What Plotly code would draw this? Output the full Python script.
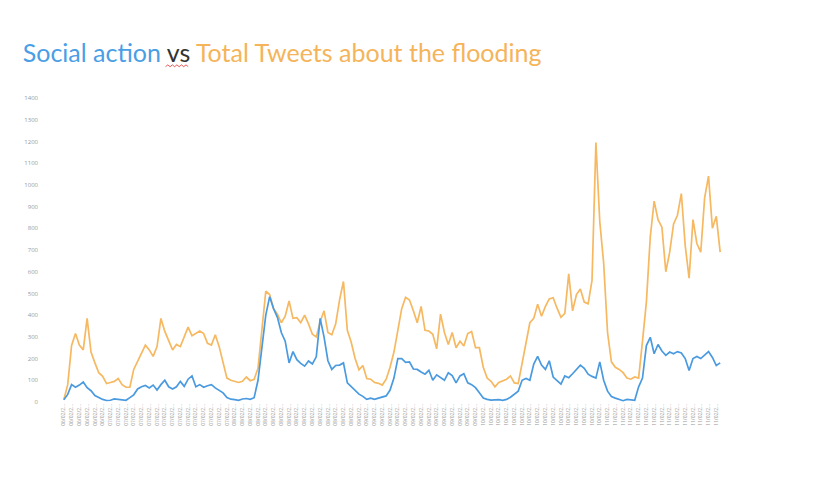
import plotly.graph_objects as go

# hourly-ish readings (roughly 45 min apart)
total_tweets = [
    10, 80, 260, 315, 262, 240, 385, 230, 180, 135,
    118, 85, 90, 95, 108, 80, 68, 68, 150, 188,
    220, 262, 240, 210, 255, 385, 325, 280, 240, 265,
    255, 300, 345, 305, 315, 327, 315, 270, 262, 310,
    255, 180, 110, 100, 95, 90, 95, 115, 98, 104,
    155, 330, 510, 495, 430, 405, 365, 395, 465, 385,
    388, 365, 400, 360, 312, 300, 370, 420, 320, 310,
    360, 470, 555, 330, 275, 200, 148, 168, 108, 105,
    90, 86, 78, 105, 160, 230, 330, 430, 482, 470,
    420, 365, 440, 330, 327, 312, 245, 405, 320, 265,
    320, 250, 280, 258, 315, 325, 250, 250, 160, 110,
    95, 70, 90, 97, 105, 120, 88, 85, 180, 280,
    365, 385, 450, 395, 440, 475, 480, 432, 390, 408,
    590, 420, 495, 520, 460, 452, 560, 1195, 830, 640,
    320, 185, 160, 150, 135, 110, 105, 115, 110, 280,
    460, 760, 925, 840, 805, 600, 690, 820, 860, 960,
    720, 570, 840, 730, 690, 940, 1040, 800, 855, 690,
]

social_action = [
    10, 35, 80, 68, 78, 92, 66, 52, 30, 20,
    12, 7, 8, 14, 12, 12, 8, 20, 33, 60,
    70, 76, 65, 78, 55, 80, 100, 70, 60, 70,
    95, 72, 105, 120, 70, 80, 68, 75, 80, 65,
    52, 42, 20, 13, 11, 8, 14, 16, 12, 20,
    100, 240, 400, 485, 430, 390, 320, 280, 180, 232,
    195, 178, 165, 189, 175, 208, 385, 300, 190, 150,
    168, 170, 180, 88, 70, 55, 36, 26, 12, 18,
    12, 18, 22, 28, 55, 110, 200, 200, 183, 185,
    152, 150, 138, 128, 146, 100, 125, 112, 100, 135,
    122, 88, 120, 130, 88, 80, 66, 43, 18, 12,
    9, 10, 11, 8, 12, 22, 35, 50, 100, 108,
    100, 175, 210, 170, 150, 190, 115, 97, 82, 120,
    112, 130, 148, 170, 155, 128, 118, 110, 185, 100,
    50, 25, 18, 13, 6, 12, 11, 8, 70, 110,
    260, 298, 222, 265, 235, 215, 230, 222, 232, 226,
    200, 145, 200, 210, 200, 215, 232, 205, 168, 180,
]

# one label every second reading, day text cut short as in the source chart
tick_labels = (["06/02/2…"] * 6 + ["07/02/2…"] * 16 + ["08/02/2…"] * 16
               + ["09/02/2…"] * 16 + ["10/02/2…"] * 16 + ["11/02/2…"] * 15)

x = list(range(len(total_tweets)))

fig = go.Figure()
fig.add_trace(go.Scatter(x=x, y=total_tweets, mode='lines',
                         name='Total Tweets',
                         line=dict(color='#f6b860', width=1.7)))
fig.add_trace(go.Scatter(x=x, y=social_action, mode='lines',
                         name='Social action',
                         line=dict(color='#4a9ae0', width=1.7)))

title = ("<span style='color:#4a9ee6'>Social action</span> "
         "<span style='color:#333333'>vs</span> "
         "<span style='color:#f5b45a'>Total Tweets about the flooding</span>")

# red spell-check squiggle under "vs" (paper coords)
zig = "M 0.161 1.103"
for k in range(1, 11):
    zig += " L %.4f %.4f" % (0.161 + k * 0.0034, 1.103 + (0.006 if k % 2 else 0))

fig.update_layout(
    width=818, height=486,
    margin=dict(l=50, r=100, t=90, b=92),
    paper_bgcolor='white', plot_bgcolor='white',
    showlegend=False,
    title=dict(text=title, x=0.018, xanchor='left', y=0.906, yanchor='middle',
               font=dict(family='Lato, Open Sans, sans-serif', size=25)),
    shapes=[dict(type='path', path=zig, xref='paper', yref='paper',
                 line=dict(color='#e03030', width=0.8))],
)

fig.update_xaxes(range=[-1.5, 170.5], tickmode='array',
                 tickvals=x[::2], ticktext=tick_labels,
                 tickangle=-90, tickfont=dict(size=5, color='#999999'),
                 showgrid=False, zeroline=False, showline=False, ticks='')
fig.update_yaxes(range=[0, 1400], tickmode='linear', tick0=0, dtick=100,
                 tickfont=dict(size=6, color='#999999'),
                 ticklabelstandoff=19,
                 showgrid=False, zeroline=False, showline=False, ticks='')

fig.write_html("out.html")
